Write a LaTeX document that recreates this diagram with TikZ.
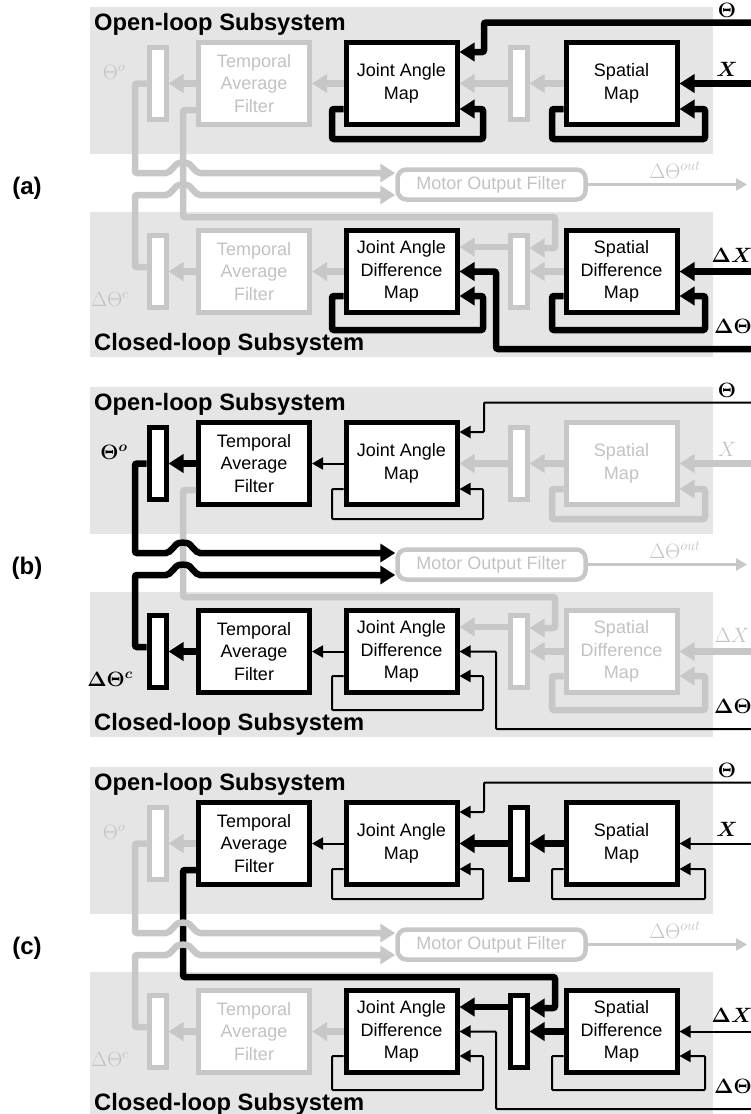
\documentclass[tikz,border=0pt]{standalone}
\usepackage{amsmath}
\usepackage{fontspec}
\setmainfont{Liberation Sans}
\usetikzlibrary{arrows.meta}

\definecolor{panelgrey}{gray}{0.9}
\definecolor{fadegrey}{gray}{0.78}
\definecolor{fadetext}{gray}{0.76}

\tikzset{
  % blocks
  block/.style={draw, line width=5pt, fill=white, minimum width=111pt, minimum height=82pt,
    inner sep=0pt, align=center, font=\fontsize{18}{22.5}\selectfont},
  bar/.style={draw, line width=5pt, fill=white, minimum width=17pt, minimum height=72pt, inner sep=0pt},
  roundbox/.style={draw=fadegrey, text=fadetext, line width=4.5pt, rounded corners=9pt,
    minimum width=188pt, minimum height=30pt, inner sep=0pt, font=\fontsize{18}{22.5}\selectfont},
  boxon/.style={draw=black, text=black},
  boxoff/.style={draw=fadegrey, text=fadetext},
  % links
  linkoff/.style={draw=fadegrey, line width=6.5pt, rounded corners=2pt, -{Triangle[length=15pt,width=18pt]}},
  linkbold/.style={draw=black, line width=6.5pt, rounded corners=2pt, -{Triangle[length=15pt,width=18pt]}},
  linkthin/.style={draw=black, line width=2pt, rounded corners=1pt, -{Triangle[length=11pt,width=12pt]}},
  outlink/.style={draw=fadegrey, line width=2.5pt, -{Triangle[length=11pt,width=12pt]}},
  % texts
  title/.style={anchor=base west, inner sep=0pt, font=\fontsize{23.7}{28}\selectfont\bfseries},
  paneltag/.style={inner sep=0pt, font=\fontsize{24}{28}\selectfont\bfseries},
  sig/.style={inner sep=0pt, font=\fontsize{20}{24}\selectfont},
  sigon/.style={text=black, font=\fontsize{20}{24}\selectfont\boldmath},
  sigoff/.style={text=fadetext},
  % what each panel lights up (default: faded)
  oBarA/.style=boxoff, oTaf/.style=boxoff, oJam/.style=boxoff, oBarB/.style=boxoff, oSm/.style=boxoff,
  cBarA/.style=boxoff, cTaf/.style=boxoff, cJam/.style=boxoff, cBarB/.style=boxoff, cSm/.style=boxoff,
  oTafBar/.style=linkoff, oJamTaf/.style=linkoff, oBarJam/.style=linkoff, oSmBar/.style=linkoff,
  oTh/.style=linkoff, oX/.style=linkoff, oJamLoop/.style=linkoff, oSmLoop/.style=linkoff,
  oOut/.style=linkoff, oCross/.style=linkoff,
  cTafBar/.style=linkoff, cJamTaf/.style=linkoff, cBarJam/.style=linkoff, cSmBar/.style=linkoff,
  cDth/.style=linkoff, cDx/.style=linkoff, cJamLoop/.style=linkoff, cSmLoop/.style=linkoff,
  cOut/.style=linkoff,
  sTh/.style=sigon, sX/.style=sigon, sDx/.style=sigon, sDth/.style=sigon,
  sTho/.style=sigoff, sDthc/.style=sigoff
}

% one panel: both subsystems and the motor output filter
\newcommand{\drawpanel}{%
  % subsystem areas
  \fill[panelgrey] (90,7) rectangle (713,154);
  \fill[panelgrey] (90,212) rectangle (713,357);
  \node[title] (otitle) at (94,30.5) {Open-loop Subsystem};
  \node[title] (ctitle) at (94,350.5) {Closed-loop Subsystem};
  % open-loop blocks
  \node[bar, oBarA] (obara) at (157.5,83.5) {};
  \node[block, oTaf] (otaf) at (254,83.5) {Temporal\\Average\\Filter};
  \node[block, oJam] (ojam) at (401.5,83.5) {Joint Angle\\Map};
  \node[bar, oBarB] (obarb) at (518.5,83.5) {};
  \node[block, oSm] (osm) at (621.5,83.5) {Spatial\\Map};
  % closed-loop blocks
  \node[bar, cBarA] (cbara) at (157.5,271.5) {};
  \node[block, cTaf] (ctaf) at (254,271.5) {Temporal\\Average\\Filter};
  \node[block, cJam] (cjam) at (401.5,271.5) {Joint Angle\\Difference\\Map};
  \node[bar, cBarB] (cbarb) at (518.5,271.5) {};
  \node[block, cSm] (csm) at (621.5,271.5) {Spatial\\Difference\\Map};
  % motor output filter
  \node[roundbox] (mof) at (491.5,184.5) {Motor Output Filter};
  \coordinate (mofend) at (747,184.5);
  \draw[outlink] (mof) -- (mofend);
  % free ends of the inputs
  \coordinate (thetain) at (752,22.5);
  \coordinate (xin) at (752,83.5);
  \coordinate (dxin) at (752,271.5);
  \coordinate (dthetain) at (752,349);
  % links between the subsystems
  \draw[oCross] (otaf.west |- 0,110) -| (183,217) -| (555,248) -- (cbarb.east |- 0,248);
  \draw[oOut] (obara.west) -| (135,173) -- (168,173) -- (175,166)
    .. controls (178,162) and (188,162) .. (191,166) -- (198,173) -- (mof.west |- 0,173);
  \draw[cOut] (cbara.west |- 0,267) -| (135,195) -- (168,195) -- (175,188)
    .. controls (178,184) and (188,184) .. (191,188) -- (198,195) -- (mof.west |- 0,195);
  % open-loop links
  \draw[oTafBar] (otaf) -- (obara);
  \draw[oJamTaf] (ojam) -- (otaf);
  \draw[oBarJam] (obarb) -- (ojam);
  \draw[oSmBar] (osm) -- (obarb);
  \draw[oX] (xin) -- (osm);
  \draw[oTh] (thetain) -| (484,52) -- (ojam.east |- 0,52);
  \draw[oJamLoop] (ojam.west |- 0,109) -| (332,139) -| (483,109) -- (ojam.east |- 0,109);
  \draw[oSmLoop] (osm.west |- 0,109) -| (552,139) -| (705,109) -- (osm.east |- 0,109);
  % closed-loop links
  \draw[cTafBar] (ctaf) -- (cbara);
  \draw[cJamTaf] (cjam) -- (ctaf);
  \draw[cBarJam] (cbarb.west |- 0,247) -- (cjam.east |- 0,247);
  \draw[cSmBar] (csm) -- (cbarb);
  \draw[cDx] (dxin) -- (csm);
  \draw[cDth] (dthetain) -| (496,271.5) -- (cjam);
  \draw[cJamLoop] (cjam.west |- 0,296) -| (332,330) -| (483,296) -- (cjam.east |- 0,296);
  \draw[cSmLoop] (csm.west |- 0,296) -| (552,330) -| (705,296) -- (csm.east |- 0,296);
  % signal labels
  \node[sig, sTh] (lth) at (727,10) {$\Theta$};
  \node[sig, sX] (lx) at (727,69) {$X$};
  \node[sig, sDx] (ldx) at (732,255) {$\Delta X$};
  \node[sig, sDth] (ldth) at (733,326) {$\Delta\Theta$};
  \node[sig, sTho] (ltho) at (114,72) {$\Theta^{o}$};
  \node[sig, sDthc] (ldthc) at (110,299) {$\Delta\Theta^{c}$};
  \node[sig, sigoff] (ldthout) at (675,170) {$\Delta\Theta^{out}$};
}

\begin{document}
\begin{tikzpicture}[x=1pt, y=-1pt]
  \useasboundingbox (0,0) rectangle (750,1114);

  % (a) the maps
  \begin{scope}[name prefix=a-,
      oJam/.style=boxon, oSm/.style=boxon, cJam/.style=boxon, cSm/.style=boxon,
      oTh/.style=linkbold, oX/.style=linkbold, oJamLoop/.style=linkbold, oSmLoop/.style=linkbold,
      cDth/.style=linkbold, cDx/.style=linkbold, cJamLoop/.style=linkbold, cSmLoop/.style=linkbold]
    \drawpanel
    \node[paneltag] (tag) at (27,188) {(a)};
  \end{scope}

  % (b) the outputs
  \begin{scope}[shift={(0,380)}, name prefix=b-,
      oBarA/.style=boxon, oTaf/.style=boxon, oJam/.style=boxon,
      cBarA/.style=boxon, cTaf/.style=boxon, cJam/.style=boxon,
      oTh/.style=linkthin, oJamLoop/.style=linkthin, oJamTaf/.style=linkthin,
      cDth/.style=linkthin, cJamLoop/.style=linkthin, cJamTaf/.style=linkthin,
      oTafBar/.style=linkbold, oOut/.style=linkbold, cTafBar/.style=linkbold, cOut/.style=linkbold,
      sTho/.style=sigon, sDthc/.style=sigon, sX/.style=sigoff, sDx/.style=sigoff]
    \drawpanel
    \node[paneltag] (tag) at (27,188) {(b)};
  \end{scope}

  % (c) the learning paths
  \begin{scope}[shift={(0,760)}, name prefix=c-,
      oTaf/.style=boxon, oJam/.style=boxon, oBarB/.style=boxon, oSm/.style=boxon,
      cJam/.style=boxon, cBarB/.style=boxon, cSm/.style=boxon,
      oTh/.style=linkthin, oX/.style=linkthin, oJamLoop/.style=linkthin, oSmLoop/.style=linkthin,
      oJamTaf/.style=linkthin,
      cDth/.style=linkthin, cDx/.style=linkthin, cJamLoop/.style=linkthin, cSmLoop/.style=linkthin,
      oBarJam/.style=linkbold, oSmBar/.style=linkbold, oCross/.style=linkbold,
      cBarJam/.style=linkbold, cSmBar/.style=linkbold]
    \drawpanel
    \node[paneltag] (tag) at (27,188) {(c)};
  \end{scope}
\end{tikzpicture}
\end{document}
